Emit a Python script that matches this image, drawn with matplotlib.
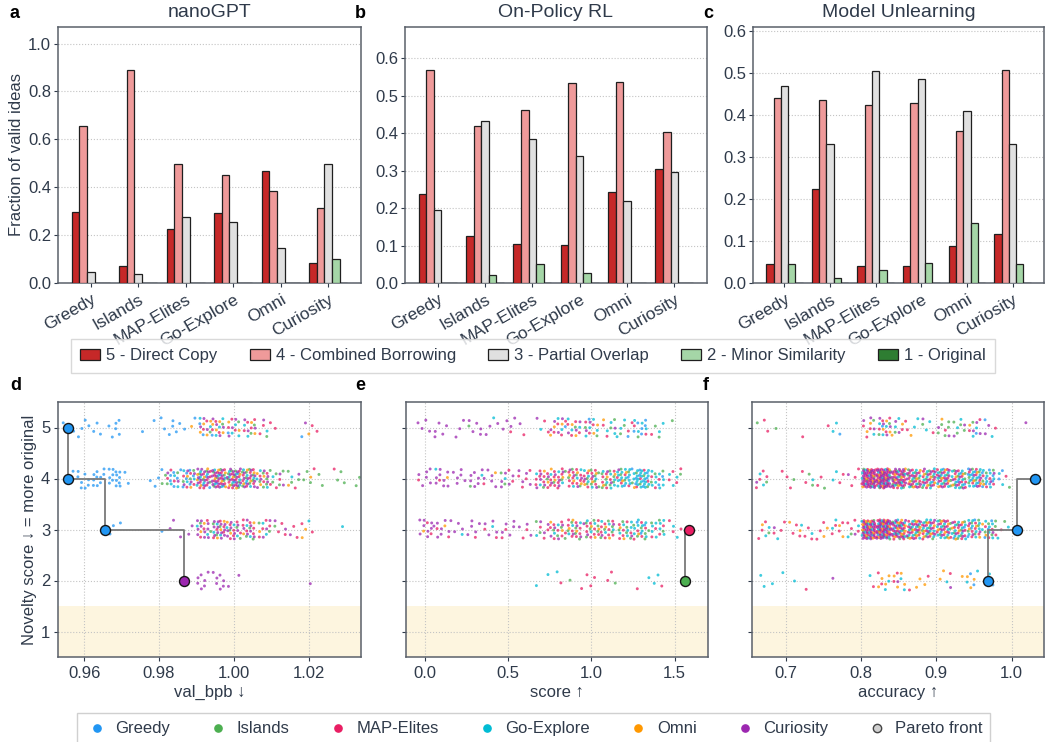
import numpy as np
import matplotlib
matplotlib.use("Agg")
import matplotlib.pyplot as plt
import matplotlib.ticker as mticker
from matplotlib.patches import Patch, Rectangle
from matplotlib.lines import Line2D

plt.rcParams['font.family'] = ['Liberation Sans', 'DejaVu Sans']
TXT = '#2f3a4a'
plt.rcParams.update({'text.color': TXT, 'axes.labelcolor': TXT, 'xtick.color': TXT,
                     'ytick.color': TXT, 'axes.edgecolor': '#5a606a', 'axes.linewidth': 1.1})

# ---------------- data ----------------
METHODS = ['Greedy', 'Islands', 'MAP-Elites', 'Go-Explore', 'Omni', 'Curiosity']
CATEGORIES = ['5 - Direct Copy', '4 - Combined Borrowing', '3 - Partial Overlap',
              '2 - Minor Similarity', '1 - Original']
TASKS = ['nanoGPT', 'On-Policy RL', 'Model Unlearning']

NANOGPT_5 = [0.298, 0.070, 0.227, 0.294, 0.466, 0.085]
NANOGPT_4 = [0.657, 0.891, 0.495, 0.449, 0.386, 0.315]
NANOGPT_3 = [0.045, 0.039, 0.277, 0.255, 0.147, 0.499]
NANOGPT_2 = [0.0, 0.0, 0.0, 0.0, 0.0, 0.100]
NANOGPT_1 = [0.0, 0.0, 0.0, 0.0, 0.0, 0.0]

RL_5 = [0.238, 0.126, 0.104, 0.101, 0.244, 0.304]
RL_4 = [0.569, 0.420, 0.462, 0.533, 0.537, 0.402]
RL_3 = [0.194, 0.433, 0.383, 0.340, 0.220, 0.296]
RL_2 = [0.0, 0.022, 0.051, 0.027, 0.0, 0.0]
RL_1 = [0.0, 0.0, 0.0, 0.0, 0.0, 0.0]

UNL_5 = [0.046, 0.225, 0.040, 0.040, 0.088, 0.117]
UNL_4 = [0.441, 0.436, 0.425, 0.428, 0.361, 0.508]
UNL_3 = [0.468, 0.330, 0.504, 0.486, 0.410, 0.331]
UNL_2 = [0.046, 0.013, 0.032, 0.048, 0.142, 0.045]
UNL_1 = [0.0, 0.0, 0.0, 0.0, 0.0, 0.0]

# Scatter panels: number of ideas per x-bin, per novelty level and method
D_BINS = [0.956, 0.960, 0.964, 0.968, 0.972, 0.976, 0.980, 0.984, 0.988, 0.992,
          0.996, 1.000, 1.004, 1.008, 1.012, 1.016, 1.020, 1.024, 1.028, 1.032]
D_L5 = {'Greedy':     [2, 4, 3, 6, 0, 1, 3, 5, 2, 2, 1, 1, 0, 0, 0, 0, 1, 0, 0, 0],
        'Islands':    [0, 0, 0, 0, 0, 0, 0, 0, 0, 1, 1, 1, 2, 1, 0, 0, 0, 0, 0, 0],
        'MAP-Elites': [0, 0, 0, 0, 0, 0, 0, 0, 0, 2, 3, 3, 4, 3, 1, 0, 1, 1, 0, 0],
        'Go-Explore': [0, 0, 0, 0, 0, 0, 0, 0, 0, 2, 3, 3, 2, 1, 0, 0, 0, 0, 0, 0],
        'Omni':       [0, 0, 0, 0, 0, 0, 0, 0, 1, 4, 4, 2, 2, 0, 0, 0, 1, 0, 0, 0],
        'Curiosity':  [0, 0, 0, 0, 0, 0, 0, 0, 0, 3, 4, 3, 3, 1, 0, 0, 1, 0, 0, 0]}
D_L4 = {'Greedy':     [2, 8, 10, 14, 2, 1, 3, 6, 6, 4, 3, 2, 1, 0, 0, 0, 0, 0, 0, 0],
        'Islands':    [0, 0, 0, 0, 0, 0, 2, 2, 3, 4, 6, 8, 8, 6, 4, 3, 3, 2, 3, 2],
        'MAP-Elites': [0, 0, 0, 0, 0, 0, 0, 3, 4, 8, 10, 9, 7, 4, 2, 1, 1, 0, 1, 0],
        'Go-Explore': [0, 0, 0, 0, 0, 0, 0, 3, 3, 5, 5, 6, 5, 3, 1, 1, 0, 0, 0, 0],
        'Omni':       [0, 0, 0, 0, 0, 0, 0, 0, 2, 5, 5, 4, 4, 3, 0, 1, 1, 0, 0, 0],
        'Curiosity':  [0, 0, 0, 0, 0, 0, 0, 2, 4, 12, 16, 14, 10, 5, 2, 1, 0, 0, 0, 0]}
D_L3 = {'Greedy':     [0, 0, 0, 3, 0, 0, 1, 0, 0, 0, 0, 0, 0, 0, 0, 0, 0, 0, 0, 0],
        'Islands':    [0, 0, 0, 0, 0, 0, 0, 0, 0, 2, 3, 3, 3, 2, 1, 0, 0, 0, 0, 0],
        'MAP-Elites': [0, 0, 0, 0, 0, 0, 0, 0, 0, 3, 5, 6, 6, 4, 3, 2, 2, 0, 0, 0],
        'Go-Explore': [0, 0, 0, 0, 0, 0, 0, 0, 0, 2, 3, 3, 2, 2, 0, 0, 1, 0, 1, 0],
        'Omni':       [0, 0, 0, 0, 0, 0, 0, 0, 0, 2, 3, 2, 2, 1, 0, 0, 2, 0, 0, 0],
        'Curiosity':  [0, 0, 0, 0, 0, 0, 0, 3, 2, 10, 12, 8, 6, 3, 2, 1, 0, 0, 0, 0]}
D_L2 = {'Curiosity':  [0, 0, 0, 0, 0, 0, 0, 0, 0, 7, 7, 2, 0, 0, 0, 0, 1, 0, 0, 0]}

E_BINS = [0.0, 0.1, 0.2, 0.3, 0.4, 0.5, 0.6, 0.7, 0.8, 0.9, 1.0, 1.1, 1.2, 1.3, 1.4, 1.5, 1.6]
E_L5 = {'Greedy':     [0, 0, 0, 0, 0, 0, 0, 0, 1, 0, 1, 0, 1, 6, 0, 0, 0],
        'Islands':    [0, 0, 0, 1, 0, 0, 0, 0, 0, 1, 2, 2, 2, 1, 2, 1, 0],
        'MAP-Elites': [0, 0, 0, 0, 0, 1, 1, 2, 4, 4, 3, 2, 2, 2, 1, 0, 0],
        'Go-Explore': [0, 0, 0, 0, 1, 0, 0, 1, 2, 3, 4, 3, 3, 4, 2, 0, 0],
        'Omni':       [0, 0, 0, 0, 0, 0, 0, 0, 3, 2, 2, 1, 0, 0, 0, 0, 0],
        'Curiosity':  [4, 5, 3, 5, 3, 4, 1, 1, 4, 3, 2, 1, 0, 0, 0, 0, 0]}
E_L4 = {'Greedy':     [0, 0, 0, 0, 0, 0, 0, 0, 0, 0, 0, 0, 4, 8, 2, 0, 0],
        'Islands':    [0, 0, 0, 1, 0, 2, 0, 2, 3, 4, 8, 8, 5, 4, 3, 1, 0],
        'MAP-Elites': [1, 1, 0, 0, 1, 2, 4, 8, 10, 10, 8, 6, 4, 4, 3, 4, 0],
        'Go-Explore': [0, 1, 0, 1, 0, 1, 0, 2, 3, 3, 5, 6, 14, 20, 8, 3, 0],
        'Omni':       [0, 1, 0, 0, 1, 0, 0, 2, 3, 4, 4, 3, 2, 1, 0, 0, 0],
        'Curiosity':  [6, 8, 6, 7, 5, 5, 4, 5, 5, 4, 3, 2, 1, 0, 0, 0, 0]}
E_L3 = {'Greedy':     [0, 0, 0, 0, 0, 0, 0, 0, 0, 0, 0, 0, 0, 3, 0, 0, 0],
        'Islands':    [0, 0, 0, 0, 0, 0, 0, 2, 4, 5, 6, 5, 5, 6, 3, 0, 0],
        'MAP-Elites': [2, 2, 0, 1, 2, 2, 2, 3, 7, 8, 8, 8, 6, 5, 4, 3, 0],
        'Go-Explore': [0, 0, 1, 0, 1, 0, 0, 1, 2, 3, 3, 4, 6, 8, 8, 2, 0],
        'Omni':       [1, 1, 0, 0, 0, 0, 0, 0, 2, 3, 3, 2, 2, 1, 0, 0, 0],
        'Curiosity':  [8, 7, 4, 5, 4, 5, 3, 3, 4, 3, 2, 2, 1, 0, 0, 0, 0]}
E_L2 = {'Islands':    [0, 0, 0, 0, 0, 0, 0, 0, 0, 1, 0, 1, 0, 0, 0, 0, 0],
        'MAP-Elites': [0, 0, 0, 0, 0, 0, 0, 0, 1, 1, 3, 2, 0, 1, 1, 0, 0],
        'Go-Explore': [0, 0, 0, 0, 0, 0, 0, 2, 1, 0, 0, 0, 0, 1, 2, 0, 0]}

F_BINS = [0.67, 0.69, 0.71, 0.73, 0.75, 0.77, 0.79, 0.81, 0.83, 0.85,
          0.87, 0.89, 0.91, 0.93, 0.95, 0.97, 0.99, 1.01, 1.03]
F_L5 = {'Greedy':     [0, 0, 0, 0, 0, 1, 0, 0, 1, 0, 0, 0, 0, 0, 1, 1, 0, 0, 0],
        'Islands':    [1, 1, 0, 0, 0, 0, 0, 1, 2, 1, 0, 1, 5, 4, 1, 0, 0, 0, 0],
        'MAP-Elites': [2, 0, 0, 1, 1, 0, 0, 3, 4, 2, 1, 1, 1, 0, 2, 1, 0, 0, 0],
        'Go-Explore': [0, 0, 0, 0, 0, 2, 0, 1, 3, 2, 2, 2, 0, 2, 2, 1, 0, 0, 0],
        'Omni':       [0, 0, 0, 0, 0, 0, 0, 2, 3, 2, 1, 0, 1, 0, 1, 0, 0, 0, 0],
        'Curiosity':  [0, 0, 0, 0, 0, 0, 0, 3, 4, 2, 0, 1, 2, 2, 3, 2, 0, 1, 0]}
F_L4 = {'Greedy':     [0, 0, 0, 0, 0, 0, 0, 0, 0, 0, 0, 1, 2, 3, 8, 8, 2, 0, 0],
        'Islands':    [1, 0, 1, 2, 1, 0, 0, 6, 8, 8, 8, 6, 6, 6, 5, 3, 1, 0, 0],
        'MAP-Elites': [4, 1, 2, 2, 2, 2, 3, 25, 25, 18, 12, 10, 10, 8, 6, 4, 1, 0, 0],
        'Go-Explore': [2, 0, 0, 1, 0, 2, 0, 6, 8, 6, 6, 8, 10, 10, 10, 6, 2, 0, 0],
        'Omni':       [0, 0, 0, 0, 0, 0, 0, 5, 6, 5, 4, 4, 4, 3, 3, 1, 0, 0, 0],
        'Curiosity':  [1, 0, 0, 0, 0, 0, 1, 25, 28, 18, 10, 8, 8, 6, 4, 2, 0, 0, 0]}
F_L3 = {'Greedy':     [0, 0, 0, 0, 0, 0, 0, 0, 0, 0, 0, 0, 0, 2, 3, 3, 0, 0, 0],
        'Islands':    [1, 0, 0, 0, 0, 0, 1, 5, 6, 6, 6, 6, 6, 6, 5, 5, 1, 0, 0],
        'MAP-Elites': [3, 3, 3, 3, 3, 4, 4, 22, 25, 16, 12, 10, 10, 8, 6, 4, 1, 0, 0],
        'Go-Explore': [2, 1, 0, 2, 0, 2, 2, 10, 12, 10, 10, 10, 10, 10, 8, 6, 2, 0, 0],
        'Omni':       [1, 0, 2, 0, 2, 2, 0, 8, 8, 7, 6, 5, 5, 4, 3, 2, 0, 0, 0],
        'Curiosity':  [0, 1, 0, 0, 0, 0, 1, 20, 25, 14, 8, 7, 6, 5, 3, 1, 0, 0, 0]}
F_L2 = {'Greedy':     [0, 0, 0, 0, 0, 0, 0, 0, 0, 0, 0, 0, 0, 0, 2, 1, 0, 0, 0],
        'MAP-Elites': [0, 0, 0, 1, 0, 0, 0, 1, 2, 2, 1, 1, 1, 0, 0, 0, 0, 0, 0],
        'Go-Explore': [2, 2, 1, 0, 0, 0, 0, 1, 2, 2, 0, 0, 1, 0, 2, 1, 0, 0, 0],
        'Omni':       [0, 0, 0, 0, 0, 0, 0, 0, 4, 4, 2, 1, 2, 1, 3, 0, 0, 0, 0],
        'Curiosity':  [0, 0, 0, 0, 0, 1, 0, 0, 0, 1, 0, 0, 1, 0, 0, 0, 0, 0, 0]}

PARETO_D_X = [0.9556, 0.9556, 0.9655, 0.9866]
PARETO_D_Y = [5, 4, 3, 2]
PARETO_D_M = ['Greedy', 'Greedy', 'Greedy', 'Curiosity']
PARETO_E_X = [1.562, 1.584]
PARETO_E_Y = [2, 3]
PARETO_E_M = ['Islands', 'MAP-Elites']
PARETO_F_X = [0.969, 1.0067, 1.031]
PARETO_F_Y = [2, 3, 4]
PARETO_F_M = ['Greedy', 'Greedy', 'Greedy']

# ---------------- style ----------------
CAT_COLORS = ['#c62828', '#ef9a9a', '#e0e0e0', '#a5d6a7', '#2e7d32']
METHOD_COLORS = {'Greedy': '#2196f3', 'Islands': '#4caf50', 'MAP-Elites': '#e91e63',
                 'Go-Explore': '#00bcd4', 'Omni': '#ff9800', 'Curiosity': '#9c27b0'}

W, H = 1045, 742
fig = plt.figure(figsize=(W / 100, H / 100), dpi=100)


def px_axes(left, top, right, bottom):
    return fig.add_axes([left / W, 1 - bottom / H, (right - left) / W, (bottom - top) / H])


def bar_panel(ax, series, title):
    x = np.arange(len(METHODS))
    w = 0.16
    for j, (vals, col) in enumerate(zip(series, CAT_COLORS)):
        ax.bar(x + (j - 2) * w, vals, w, color=col, edgecolor='#1f1f1f', linewidth=0.9, zorder=3)
    ymax = max(max(v) for v in series) * 1.2
    ax.set_ylim(0, ymax)
    ax.set_xticks(x)
    ax.set_xticklabels(METHODS, rotation=30, ha='right', rotation_mode='anchor', fontsize=12.5)
    ax.tick_params(axis='y', labelsize=12, pad=2)
    ax.tick_params(length=3)
    ax.set_title(title, fontsize=14, pad=7)
    ax.yaxis.grid(True, ls=':', color='#c4c4c4', lw=0.8)
    ax.set_axisbelow(True)


def scatter_panel(ax, bins, levels, px, py, pm, step, xlim, xticks, xlabel):
    width = bins[1] - bins[0]
    ax.axhspan(0.5, 1.5, color='#fdf5df', lw=0, zorder=0)
    xs, ys, cs = [], [], []
    c = 0
    for level, data in levels:
        for k, xc in enumerate(bins):
            for m in METHODS:
                if m in data:
                    for _ in range(data[m][k]):
                        c += 1
                        u = (c * 0.7548776662 + 0.31) % 1
                        v = (c * 0.5698402910 + 0.17) % 1
                        xs.append(xc + (u - 0.5) * width * 0.92)
                        ys.append(level + (v - 0.5) * 0.38)
                        cs.append(METHOD_COLORS[m])
    ax.scatter(xs, ys, c=cs, s=4.5, alpha=0.75, linewidths=0, zorder=2)
    ax.plot(px, py, drawstyle=step, color='#7a7a7a', lw=1.3, zorder=3)
    for x, y, m in zip(px, py, pm):
        ax.plot(x, y, 'o', ms=7.2, mfc=METHOD_COLORS[m], mec='#151515', mew=1.0, zorder=4)
    ax.set_ylim(0.5, 5.5)
    ax.set_xlim(*xlim)
    ax.set_xticks(xticks)
    ax.set_yticks([1, 2, 3, 4, 5])
    ax.grid(True, ls=':', color='#c4c4c4', lw=0.8)
    ax.set_axisbelow(True)
    ax.tick_params(labelsize=12, length=3)
    ax.tick_params(axis='y', pad=2.5)
    ax.set_xlabel(xlabel, fontsize=12, labelpad=3)


ax_a = px_axes(58, 27, 361, 283)
ax_b = px_axes(405, 27, 707, 283)
ax_c = px_axes(753, 27, 1044, 283)
bar_panel(ax_a, [NANOGPT_5, NANOGPT_4, NANOGPT_3, NANOGPT_2, NANOGPT_1], TASKS[0])
bar_panel(ax_b, [RL_5, RL_4, RL_3, RL_2, RL_1], TASKS[1])
bar_panel(ax_c, [UNL_5, UNL_4, UNL_3, UNL_2, UNL_1], TASKS[2])
ax_a.set_ylabel('Fraction of valid ideas', fontsize=12, labelpad=3)

ax_d = px_axes(58, 402, 361, 657)
ax_e = px_axes(406, 402, 708, 657)
ax_f = px_axes(752, 402, 1044, 657)
scatter_panel(ax_d, D_BINS, [(5, D_L5), (4, D_L4), (3, D_L3), (2, D_L2)],
              PARETO_D_X, PARETO_D_Y, PARETO_D_M, 'steps-post',
              (0.953, 1.034), [0.96, 0.98, 1.00, 1.02], 'val_bpb ↓')
scatter_panel(ax_e, E_BINS, [(5, E_L5), (4, E_L4), (3, E_L3), (2, E_L2)],
              PARETO_E_X, PARETO_E_Y, PARETO_E_M, 'steps-pre',
              (-0.112, 1.70), [0.0, 0.5, 1.0, 1.5], 'score ↑')
scatter_panel(ax_f, F_BINS, [(5, F_L5), (4, F_L4), (3, F_L3), (2, F_L2)],
              PARETO_F_X, PARETO_F_Y, PARETO_F_M, 'steps-pre',
              (0.655, 1.043), [0.7, 0.8, 0.9, 1.0], 'accuracy ↑')
ax_d.xaxis.set_major_formatter(mticker.FormatStrFormatter('%.2f'))
ax_e.xaxis.set_major_formatter(mticker.FormatStrFormatter('%.1f'))
ax_f.xaxis.set_major_formatter(mticker.FormatStrFormatter('%.1f'))
ax_e.set_yticklabels([])
ax_f.set_yticklabels([])
ax_d.set_ylabel('Novelty score ↓ = more original', fontsize=12, labelpad=3)

# panel letters
for lab, (x, y) in zip('abcdef', [(10, 14), (355, 14), (703, 14), (10, 385), (355, 385), (703, 385)]):
    fig.text(x / W, 1 - y / H, lab, fontsize=13, fontweight='bold', color='black', va='center', ha='left')

# top legend (bar categories)
cat_handles = [Patch(facecolor=c, edgecolor='#1f1f1f', linewidth=0.9) for c in CAT_COLORS]
fig.legend(cat_handles, CATEGORIES, loc='center', bbox_to_anchor=(533 / W, 1 - 356 / H), ncol=5,
           fontsize=12, frameon=True, fancybox=False, edgecolor='#d0d0d0', handlelength=1.2,
           handleheight=0.6, columnspacing=1.95, handletextpad=0.35, borderpad=0.55)

# bottom legend (methods), laid out by hand so labels share one baseline
LEG_Y = 728.0
LEG_BASE = 733.0
leg_items = METHODS + ['Pareto front']
leg_marker_x = [96.7, 218.3, 338.3, 486.7, 638.3, 745.0, 876.7]
fig.add_artist(Rectangle((76.7 / W, -0.02), (990 - 76.7) / W, 0.02 + (742 - 713.3) / H,
                         transform=fig.transFigure, fill=False, edgecolor='#d0d0d0', lw=1.0))
for name, mx in zip(leg_items, leg_marker_x):
    if name == 'Pareto front':
        fig.add_artist(Line2D([mx / W], [1 - LEG_Y / H], marker='o', ls='', mfc='#d0d0d0',
                              mec='#444444', ms=6, mew=1, transform=fig.transFigure))
    else:
        col = METHOD_COLORS[name]
        fig.add_artist(Line2D([mx / W], [1 - LEG_Y / H], marker='o', ls='', mfc=col, mec=col,
                              ms=5.2, transform=fig.transFigure))
    fig.text((mx + 18.5) / W, 1 - LEG_BASE / H, name, fontsize=12, ha='left', va='baseline')

fig.savefig('out.png', dpi=100)
